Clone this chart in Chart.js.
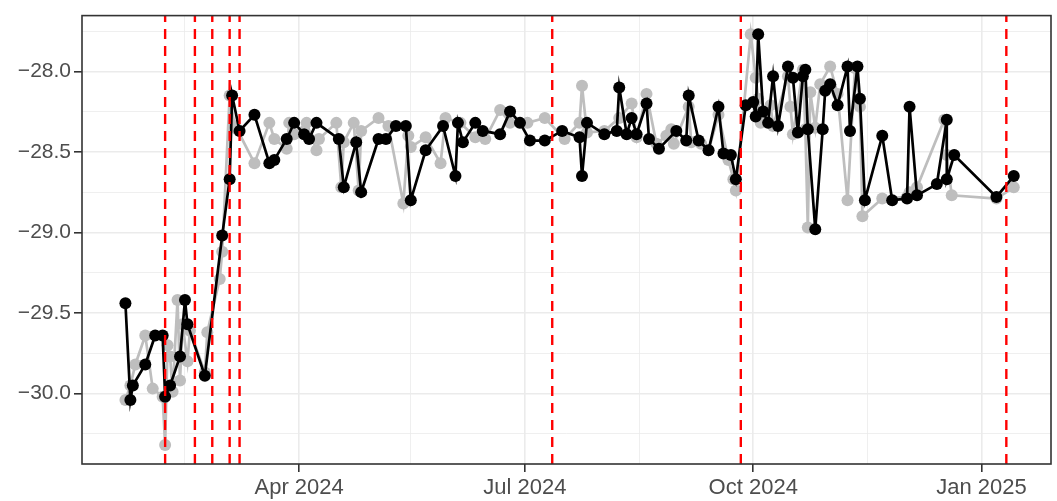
<!DOCTYPE html>
<html>
<head>
<meta charset="utf-8">
<script src="https://cdn.jsdelivr.net/npm/chart.js@4/dist/chart.umd.min.js"></script>
<style>
  html, body { margin: 0; padding: 0; background: #ffffff; }
  #wrap { width: 1057px; height: 501px; }
</style>
</head>
<body>
<div id="wrap"><canvas id="c" width="1057" height="501"></canvas></div>
<script>
// ---------------- data ----------------
const blackDates = [
  '2024-01-22','2024-01-24','2024-01-25','2024-01-30','2024-02-03','2024-02-06','2024-02-07','2024-02-09',
  '2024-02-13','2024-02-15','2024-02-16','2024-02-23','2024-03-01','2024-03-04','2024-03-05','2024-03-08',
  '2024-03-14','2024-03-20','2024-03-22','2024-03-27','2024-03-30','2024-04-03','2024-04-05','2024-04-08',
  '2024-04-17','2024-04-19','2024-04-24','2024-04-26','2024-05-03','2024-05-06','2024-05-10','2024-05-14',
  '2024-05-16','2024-05-22','2024-05-29','2024-06-03','2024-06-04','2024-06-06','2024-06-11','2024-06-14',
  '2024-06-21','2024-06-25','2024-06-29','2024-07-03','2024-07-09','2024-07-16','2024-07-23','2024-07-24',
  '2024-07-26','2024-08-02','2024-08-07','2024-08-08','2024-08-11','2024-08-13','2024-08-15','2024-08-19',
  '2024-08-20','2024-08-24','2024-08-31','2024-09-04','2024-09-05','2024-09-09','2024-09-13','2024-09-17',
  '2024-09-19','2024-09-22','2024-09-24','2024-09-28','2024-10-01','2024-10-02','2024-10-03','2024-10-05',
  '2024-10-07','2024-10-09','2024-10-11','2024-10-15','2024-10-17','2024-10-19','2024-10-21','2024-10-22',
  '2024-10-23','2024-10-26','2024-10-29','2024-10-30','2024-11-01','2024-11-04','2024-11-08','2024-11-09',
  '2024-11-12','2024-11-13','2024-11-15','2024-11-22','2024-11-26','2024-12-02','2024-12-03','2024-12-06',
  '2024-12-14','2024-12-18','2024-12-18','2024-12-21','2025-01-07','2025-01-14'
];
const blackValues = [
  -29.44,-30.04,-29.95,-29.82,-29.64,-29.64,-30.02,-29.95,
  -29.77,-29.42,-29.57,-29.89,-29.02,-28.67,-28.15,-28.37,
  -28.27,-28.57,-28.55,-28.42,-28.32,-28.39,-28.42,-28.32,
  -28.42,-28.72,-28.44,-28.75,-28.42,-28.42,-28.34,-28.34,
  -28.80,-28.49,-28.34,-28.65,-28.32,-28.44,-28.32,-28.37,
  -28.39,-28.25,-28.32,-28.43,-28.43,-28.37,-28.41,-28.65,
  -28.32,-28.39,-28.37,-28.10,-28.39,-28.29,-28.39,-28.20,
  -28.42,-28.48,-28.37,-28.43,-28.15,-28.43,-28.49,-28.22,
  -28.51,-28.52,-28.67,-28.21,-28.19,-28.28,-27.77,-28.25,
  -28.32,-28.03,-28.34,-27.97,-28.04,-28.38,-28.03,-27.99,
  -28.36,-28.98,-28.36,-28.12,-28.08,-28.21,-27.97,-28.37,
  -27.97,-28.17,-28.80,-28.40,-28.80,-28.79,-28.22,-28.77,
  -28.70,-28.30,-28.67,-28.52,-28.78,-28.65
];
const greyDates = [
  '2024-01-22','2024-01-24','2024-01-26','2024-01-30','2024-02-02','2024-02-06','2024-02-07','2024-02-08',
  '2024-02-09','2024-02-10','2024-02-12','2024-02-13','2024-02-14','2024-02-16','2024-02-17','2024-02-23',
  '2024-02-24','2024-02-29','2024-03-01','2024-03-04','2024-03-06','2024-03-07','2024-03-14','2024-03-20',
  '2024-03-22','2024-03-27','2024-03-28','2024-03-30','2024-04-04','2024-04-08','2024-04-09','2024-04-16',
  '2024-04-18','2024-04-19','2024-04-23','2024-04-25','2024-04-26','2024-05-03','2024-05-07','2024-05-13',
  '2024-05-15','2024-05-16','2024-05-22','2024-05-28','2024-05-30','2024-06-05','2024-06-11','2024-06-15',
  '2024-06-21','2024-06-25','2024-07-02','2024-07-09','2024-07-17','2024-07-23','2024-07-24','2024-07-26',
  '2024-08-02','2024-08-08','2024-08-13','2024-08-15','2024-08-19','2024-08-23','2024-08-27','2024-08-29',
  '2024-08-30','2024-09-05','2024-09-06','2024-09-10','2024-09-13','2024-09-17','2024-09-21','2024-09-23',
  '2024-09-24','2024-09-30','2024-10-02','2024-10-03','2024-10-04','2024-10-08','2024-10-09','2024-10-15',
  '2024-10-16','2024-10-17','2024-10-21','2024-10-22','2024-10-23','2024-10-24','2024-10-26','2024-10-28',
  '2024-11-01','2024-11-04','2024-11-08','2024-11-11','2024-11-13','2024-11-14','2024-11-22','2024-12-02',
  '2024-12-03','2024-12-06','2024-12-17','2024-12-18','2024-12-20','2025-01-07','2025-01-14'
];
const greyValues = [
  -30.04,-29.95,-29.82,-29.64,-29.97,-30.02,-30.32,-29.70,
  -29.77,-29.99,-29.42,-29.92,-29.57,-29.80,-29.61,-29.87,
  -29.62,-29.29,-29.12,-28.15,-28.34,-28.36,-28.57,-28.32,
  -28.42,-28.48,-28.32,-28.39,-28.32,-28.49,-28.42,-28.32,
  -28.72,-28.44,-28.32,-28.74,-28.37,-28.29,-28.34,-28.82,
  -28.40,-28.47,-28.41,-28.57,-28.29,-28.32,-28.41,-28.42,
  -28.24,-28.32,-28.32,-28.29,-28.42,-28.32,-28.09,-28.38,
  -28.37,-28.29,-28.20,-28.41,-28.14,-28.45,-28.40,-28.36,
  -28.45,-28.22,-28.44,-28.45,-28.49,-28.27,-28.55,-28.67,
  -28.74,-27.77,-28.04,-28.17,-28.32,-28.21,-28.34,-28.03,
  -28.22,-28.39,-27.99,-28.36,-28.97,-28.13,-28.35,-28.08,
  -27.97,-28.14,-28.80,-27.98,-28.22,-28.90,-28.79,-28.78,
  -28.75,-28.72,-28.30,-28.52,-28.77,-28.79,-28.72
];
const eventDates = ['2024-02-07','2024-02-19','2024-02-26','2024-03-04','2024-03-08','2024-07-12','2024-09-26','2025-01-11'];
const xTickDates  = ['2024-04-01','2024-07-01','2024-10-01','2025-01-01'];
const xTickLabels = ['Apr 2024','Jul 2024','Oct 2024','Jan 2025'];
const xMinorDates = ['2024-02-15','2024-05-16','2024-08-16','2024-11-16'];
const yTicks      = [-30.0,-29.5,-29.0,-28.5,-28.0];
const yMinorTicks = [-30.25,-29.75,-29.25,-28.75,-28.25,-27.75];

// ---------------- helpers ----------------
const day = s => Date.UTC(+s.slice(0,4), +s.slice(5,7)-1, +s.slice(8,10)) / 86400000;
const Y_MIN = -30.438, Y_MAX = -27.654;
const X_MIN = day('2024-04-01') - 87.5, X_MAX = day('2024-04-01') + 303.0;

const toPts = (dates, vals) => dates.map((d, i) => ({x: day(d), y: vals[i]}));
const xMajor = xTickDates.map(day);
const xMinor = xMinorDates.map(day);
const isMajorX = v => xMajor.some(m => Math.abs(m - v) < 1e-6);
const isMajorY = v => yTicks.some(m => Math.abs(m - v) < 1e-6);

const FONT = '"Liberation Sans", Arial, Helvetica, sans-serif';

const eventSets = eventDates.map(d => ({
  type: 'line',
  data: [{x: day(d), y: Y_MIN}, {x: day(d), y: Y_MAX}],
  borderColor: '#FF0000',
  borderWidth: 2.4,
  borderDash: [10, 7],
  pointRadius: 0,
  fill: false,
  order: 0
}));

const panelBorder = {
  id: 'panelBorder',
  afterDatasetsDraw(chart) {
    const {ctx, chartArea: a} = chart;
    ctx.save();
    ctx.strokeStyle = '#333333';
    ctx.lineWidth = 1.6;
    ctx.strokeRect(a.left, a.top, a.right - a.left, a.bottom - a.top);
    ctx.restore();
  }
};

new Chart(document.getElementById('c'), {
  type: 'line',
  data: {
    datasets: [
      ...eventSets,
      {
        data: toPts(blackDates, blackValues),
        borderColor: '#000000', backgroundColor: '#000000',
        borderWidth: 2.7, pointRadius: 6, pointBorderWidth: 0,
        tension: 0, order: 1
      },
      {
        data: toPts(greyDates, greyValues),
        borderColor: '#BEBEBE', backgroundColor: '#BEBEBE',
        borderWidth: 2.7, pointRadius: 6, pointBorderWidth: 0,
        tension: 0, order: 2
      }
    ]
  },
  options: {
    responsive: false,
    animation: false,
    parsing: true,
    layout: { padding: { top: 12, right: 6, left: 0, bottom: 0 } },
    plugins: { legend: { display: false }, tooltip: { enabled: false } },
    scales: {
      x: {
        type: 'linear',
        min: X_MIN, max: X_MAX,
        afterFit(scale) { scale.height = 37; },
        afterBuildTicks(scale) {
          scale.ticks = [...xMinor, ...xMajor].sort((a, b) => a - b).map(v => ({value: v}));
        },
        ticks: {
          autoSkip: false, maxRotation: 0, minRotation: 0,
          color: '#4D4D4D', padding: 3,
          font: { family: FONT, size: 22 },
          callback: v => { const i = xMajor.findIndex(m => Math.abs(m - v) < 1e-6); return i >= 0 ? xTickLabels[i] : ''; }
        },
        grid: {
          color: '#EBEBEB',
          lineWidth: c => isMajorX(c.tick.value) ? 1.6 : 0.8,
          drawTicks: true, tickLength: 8,
          tickColor: c => isMajorX(c.tick.value) ? '#333333' : 'rgba(0,0,0,0)',
          tickWidth: 1.6
        },
        border: { display: false }
      },
      y: {
        type: 'linear',
        min: Y_MIN, max: Y_MAX,
        afterFit(scale) { scale.width = 82; },
        afterBuildTicks(scale) {
          scale.ticks = [...yTicks, ...yMinorTicks].sort((a, b) => a - b).map(v => ({value: v}));
        },
        ticks: {
          autoSkip: false, color: '#4D4D4D', padding: 3,
          font: { family: FONT, size: 21 },
          callback: v => isMajorY(v) ? (v < 0 ? '\u2212' : '') + Math.abs(v).toFixed(1) : ''
        },
        grid: {
          color: '#EBEBEB',
          lineWidth: c => isMajorY(c.tick.value) ? 1.6 : 0.8,
          drawTicks: true, tickLength: 8,
          tickColor: c => isMajorY(c.tick.value) ? '#333333' : 'rgba(0,0,0,0)',
          tickWidth: 1.6
        },
        border: { display: false }
      }
    }
  },
  plugins: [panelBorder]
});
</script>
</body>
</html>
